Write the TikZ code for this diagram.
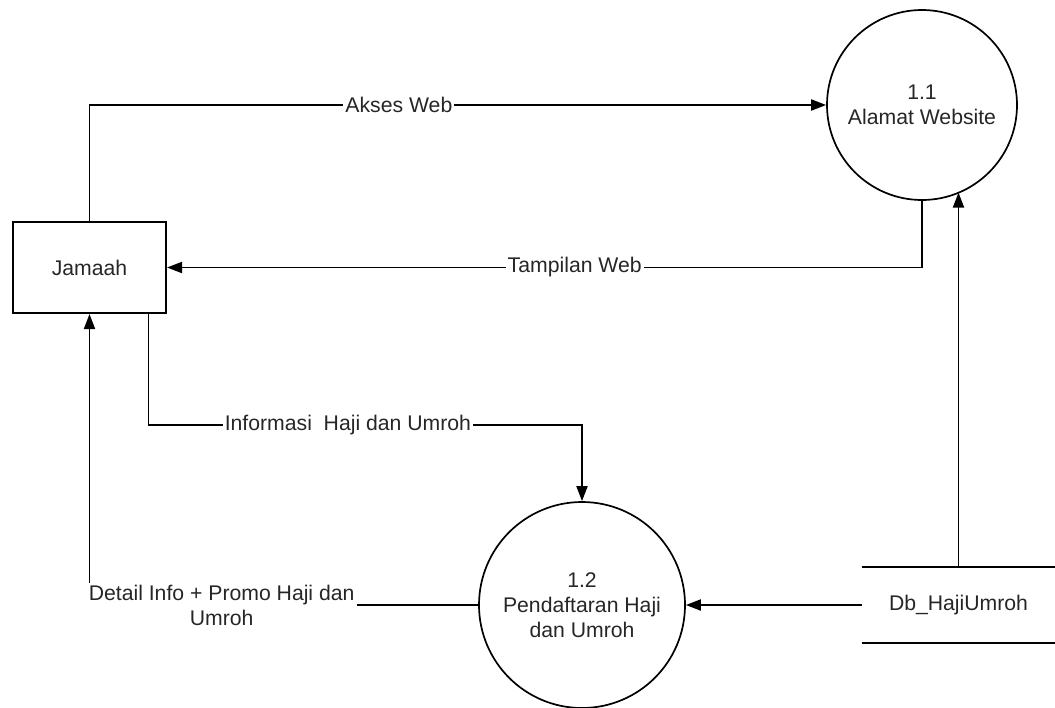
\documentclass[tikz,border=0pt]{standalone}
\usepackage{fontspec}
\setmainfont{Liberation Sans}
\usetikzlibrary{arrows.meta,positioning,calc}

\begin{document}
\begin{tikzpicture}[
  x=0.5pt, y=-0.5pt,
  entity/.style={draw, line width=1pt, minimum width=76.5pt,
    minimum height=45.5pt, inner sep=0pt},
  process/.style={draw, circle, line width=0.85pt, align=center, inner sep=0pt},
  store/.style={minimum width=96.5pt, minimum height=38pt, inner sep=0pt},
  lbl/.style={fill=white, inner sep=1pt, align=center},
  flow/.style={->, line width=0.95pt},
  >={Triangle[length=7.5pt,width=5.5pt]},
  font=\fontsize{10.6}{12.5}\selectfont,
  text=black!85,
]
\useasboundingbox (0,0) rectangle (1055,707);
\node[entity] (jam) at (89.5,267.5) {Jamaah};
\node[process, minimum size=95pt] (p11) at (922,105) {1.1\\Alamat Website};
\node[process, minimum size=103pt] (p12) at (582,605) {1.2\\Pendaftaran Haji\\dan Umroh};
\node[store] (db) at (958.5,605) {Db\_HajiUmroh};
\draw[line width=0.95pt] (db.north west) -- (db.north east)
  (db.south west) -- (db.south east);
\draw[flow] (jam.north) |- node[lbl, pos=0.71] {Akses Web} (p11.west);
\draw[flow] (p11.south) |- node[lbl, pos=0.73] {Tampilan Web} (jam.east);
\draw[flow] ([xshift=29.5pt]jam.south) |- node[lbl, pos=0.73] {Informasi\ \ Haji dan Umroh}
  ([yshift=38pt]p12.north) -- (p12.north);
\draw[flow] (p12.west) -| node[lbl, pos=0.33] {Detail Info + Promo Haji dan\\Umroh} (jam.south);
\draw[flow] (db.west) -- (p12.east);
\draw[flow] (db.north) -- (p11.294 -| db.north);
\end{tikzpicture}
\end{document}
